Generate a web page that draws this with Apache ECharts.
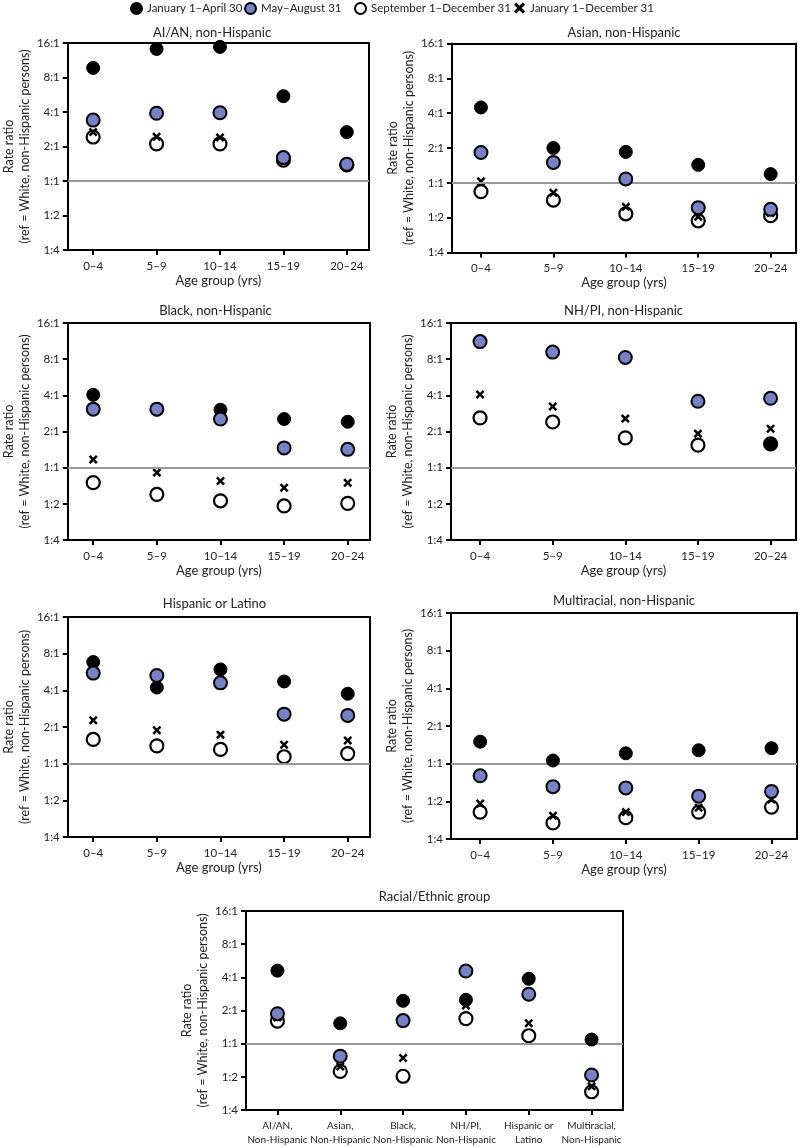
<!DOCTYPE html>
<html>
<head>
<meta charset="utf-8">
<script src="https://cdn.jsdelivr.net/npm/echarts@6/dist/echarts.min.js"></script>
<style>
html,body{margin:0;padding:0;background:#fff;}
#chart{width:800px;height:1147px;}
</style>
</head>
<body>
<div id="chart"></div>
<script>
// ---------- data ----------
const periods = ['January 1–April 30', 'May–August 31', 'September 1–December 31', 'January 1–December 31'];
const ageGroups = ['0–4', '5–9', '10–14', '15–19', '20–24'];
const raceGroups = ['AI/AN,\nNon-Hispanic', 'Asian,\nNon-Hispanic', 'Black,\nNon-Hispanic', 'NH/PI,\nNon-Hispanic', 'Hispanic or\nLatino', 'Multiracial,\nNon-Hispanic'];
const panelTitles = ['AI/AN, non-Hispanic', 'Asian, non-Hispanic', 'Black, non-Hispanic', 'NH/PI, non-Hispanic', 'Hispanic or Latino', 'Multiracial, non-Hispanic', 'Racial/Ethnic group'];
const yTickValues = [0.25, 0.5, 1, 2, 4, 8, 16];
const yTickLabels = ['1:4', '1:2', '1:1', '2:1', '4:1', '8:1', '16:1'];

const aianJanApr = [9.7, 14.2, 14.8, 5.5, 2.67];
const aianMayAug = [3.4, 3.9, 3.94, 1.6, 1.4];
const aianSepDec = [2.42, 2.11, 2.11, 1.52, 1.38];
const aianFull   = [2.67, 2.43, 2.4, 1.56, 1.4];

const asianJanApr = [4.48, 2.0, 1.85, 1.43, 1.19];
const asianMayAug = [1.83, 1.5, 1.08, 0.61, 0.59];
const asianSepDec = [0.84, 0.71, 0.54, 0.47, 0.52];
const asianFull   = [1.03, 0.82, 0.62, 0.51, 0.55];

const blackJanApr = [4.04, 3.05, 3.03, 2.54, 2.41];
const blackMayAug = [3.07, 3.07, 2.54, 1.46, 1.42];
const blackSepDec = [0.75, 0.6, 0.53, 0.48, 0.505];
const blackFull   = [1.17, 0.91, 0.775, 0.68, 0.75];

const nhpiJanApr = [null, null, null, null, 1.57];
const nhpiMayAug = [11.2, 9.16, 8.27, 3.57, 3.78];
const nhpiSepDec = [2.6, 2.4, 1.77, 1.54, 1.58];
const nhpiFull   = [4.06, 3.23, 2.56, 1.92, 2.11];

const hispJanApr = [6.83, 4.22, 5.94, 4.73, 3.75];
const hispMayAug = [5.54, 5.3, 4.61, 2.55, 2.49];
const hispSepDec = [1.58, 1.4, 1.31, 1.14, 1.21];
const hispFull   = [2.27, 1.88, 1.73, 1.43, 1.55];

const multiJanApr = [1.5, 1.06, 1.21, 1.28, 1.33];
const multiMayAug = [0.8, 0.655, 0.64, 0.55, 0.6];
const multiSepDec = [0.41, 0.336, 0.37, 0.41, 0.45];
const multiFull   = [0.48, 0.384, 0.41, 0.445, 0.516];

const allJanApr = [4.6, 1.53, 2.45, 2.5, 3.88, 1.09];
const allMayAug = [1.87, 0.77, 1.62, 4.56, 2.81, 0.52];
const allSepDec = [1.6, 0.56, 0.506, 1.69, 1.18, 0.366];
const allFull   = [1.73, 0.62, 0.74, 2.22, 1.53, 0.41];

// ---------- layout / style ----------
const FONT = 'Lato';
const TEXT = '#222';
const BLUE = '#7681c6';
const X_PATH = 'path://M0,2 L2,0 L5,3 L8,0 L10,2 L7,5 L10,8 L8,10 L5,7 L2,10 L0,8 L3,5 Z';

const panels = [
  { grid: {left: 55, top: 43, width: 314, height: 207}, cats: ageGroups, data: [aianJanApr, aianMayAug, aianSepDec, aianFull], titleTop: 26, xName: true },
  { grid: {left: 452, top: 43.5, width: 344, height: 209}, cats: ageGroups, data: [asianJanApr, asianMayAug, asianSepDec, asianFull], titleTop: 26, xName: true },
  { grid: {left: 61, top: 323, width: 309, height: 217}, cats: ageGroups, data: [blackJanApr, blackMayAug, blackSepDec, blackFull], titleTop: 304, xName: true },
  { grid: {left: 451, top: 323, width: 345, height: 217}, cats: ageGroups, data: [nhpiJanApr, nhpiMayAug, nhpiSepDec, nhpiFull], titleTop: 304, xName: true },
  { grid: {left: 59, top: 617, width: 311, height: 220}, cats: ageGroups, data: [hispJanApr, hispMayAug, hispSepDec, hispFull], titleTop: 597, xName: true },
  { grid: {left: 451, top: 613, width: 346, height: 226}, cats: ageGroups, data: [multiJanApr, multiMayAug, multiSepDec, multiFull], titleTop: 594, xName: true },
  { grid: {left: 246, top: 911, width: 377, height: 205}, cats: raceGroups, data: [allJanApr, allMayAug, allSepDec, allFull], titleTop: 890, xName: false }
];

function yLabel(v) {
  let best = 0, bd = Infinity;
  yTickValues.forEach((t, i) => { const d = Math.abs(Math.log2(v) - Math.log2(t)); if (d < bd) { bd = d; best = i; } });
  return yTickLabels[best];
}

const periodStyle = [
  { symbol: 'circle', symbolSize: 13, itemStyle: { color: '#000', borderColor: '#000', borderWidth: 1, opacity: 1 } },
  { symbol: 'circle', symbolSize: 13, itemStyle: { color: BLUE, borderColor: '#000', borderWidth: 2, opacity: 1 } },
  { symbol: 'circle', symbolSize: 13, itemStyle: { color: '#fff', borderColor: '#000', borderWidth: 2.2, opacity: 1 } },
  { symbol: X_PATH, symbolSize: 9, itemStyle: { color: '#000', opacity: 1 } }
];
const drawOrder = [2, 3, 0, 1];

const grids = [], xAxes = [], yAxes = [], series = [], titles = [];
const frameX = [], frameY = [];
panels.forEach((p, gi) => {
  grids.push(Object.assign({ show: false }, p.grid));
  const n = p.cats.length;
  const idx = p.cats.map((_, i) => i);
  const xMin = n === 5 ? -0.4 : -0.5, xMax = n === 5 ? 4.35 : 5.5;
  xAxes.push({
    type: 'value', gridIndex: gi, position: 'bottom',
    min: xMin, max: xMax,
    splitLine: { show: false },
    axisLine: { show: true, onZero: false, lineStyle: { color: '#000', width: 2 } },
    axisTick: { show: true, customValues: idx, length: 5, lineStyle: { color: '#000', width: 2 } },
    axisLabel: { customValues: idx, formatter: v => p.cats[Math.round(v)], color: TEXT, fontFamily: FONT,
                 fontSize: n === 5 ? 11.5 : 10, margin: 9, lineHeight: 14, hideOverlap: false,
                 showMinLabel: true, showMaxLabel: true },
    name: p.xName ? 'Age group (yrs)' : '', nameLocation: 'middle', nameGap: 20,
    nameTextStyle: { color: TEXT, fontFamily: FONT, fontSize: 13 }
  });
  frameX.push({
    type: 'value', gridIndex: gi, position: 'top', min: xMin, max: xMax,
    splitLine: { show: false }, axisTick: { show: false }, axisLabel: { show: false },
    axisLine: { show: true, onZero: false, lineStyle: { color: '#000', width: 2 } }
  });
  yAxes.push({
    type: 'log', logBase: 2, gridIndex: gi, position: 'left', min: 0.25, max: 16,
    splitLine: { show: false }, minorTick: { show: false },
    axisLine: { show: true, onZero: false, lineStyle: { color: '#000', width: 2 } },
    axisTick: { show: true, length: 5, lineStyle: { color: '#000', width: 2 } },
    axisLabel: { formatter: yLabel, color: TEXT, fontFamily: FONT, fontSize: 11.5, margin: 8 },
    name: 'Rate ratio\n(ref = White, non-Hispanic persons)', nameLocation: 'middle', nameRotate: 90, nameGap: 20,
    nameTextStyle: { color: TEXT, fontFamily: FONT, fontSize: 12.5, lineHeight: 16 }
  });
  frameY.push({
    type: 'log', logBase: 2, gridIndex: gi, position: 'right', min: 0.25, max: 16,
    splitLine: { show: false }, axisTick: { show: false }, axisLabel: { show: false }, minorTick: { show: false },
    axisLine: { show: true, onZero: false, lineStyle: { color: '#000', width: 2 } }
  });
  titles.push({
    text: panelTitles[gi], left: p.grid.left + p.grid.width / 2, top: p.titleTop, textAlign: 'center', padding: 0,
    textStyle: { color: TEXT, fontFamily: FONT, fontSize: 13, fontWeight: 'normal' }
  });
  drawOrder.forEach((k, j) => {
    const s = Object.assign({
      type: 'scatter', name: periods[k], xAxisIndex: gi, yAxisIndex: gi,
      data: p.data[k].map((v, i) => v == null ? null : [i, v]).filter(d => d),
      z: 3 + j, animation: false
    }, JSON.parse(JSON.stringify(periodStyle[k])));
    if (j === 0) {
      s.markLine = { silent: true, symbol: ['none', 'none'], label: { show: false },
        lineStyle: { color: '#999', width: 2, type: 'solid', opacity: 1 }, data: [{ yAxis: 1 }], animation: false };
    }
    series.push(s);
  });
});

const legendLefts = [130, 244, 354, 514];
const legends = periods.map((name, i) => ({
  data: [name], left: legendLefts[i], top: 2, padding: 0, itemWidth: 11, itemHeight: 11, itemGap: 0,
  selectedMode: false, textStyle: { color: TEXT, fontFamily: FONT, fontSize: 11.5 }
}));

const chart = echarts.init(document.getElementById('chart'), null, { renderer: 'canvas' });
chart.setOption({
  backgroundColor: '#fff',
  animation: false,
  title: titles,
  legend: legends,
  grid: grids,
  xAxis: xAxes.concat(frameX),
  yAxis: yAxes.concat(frameY),
  series: series
});
</script>
</body>
</html>
